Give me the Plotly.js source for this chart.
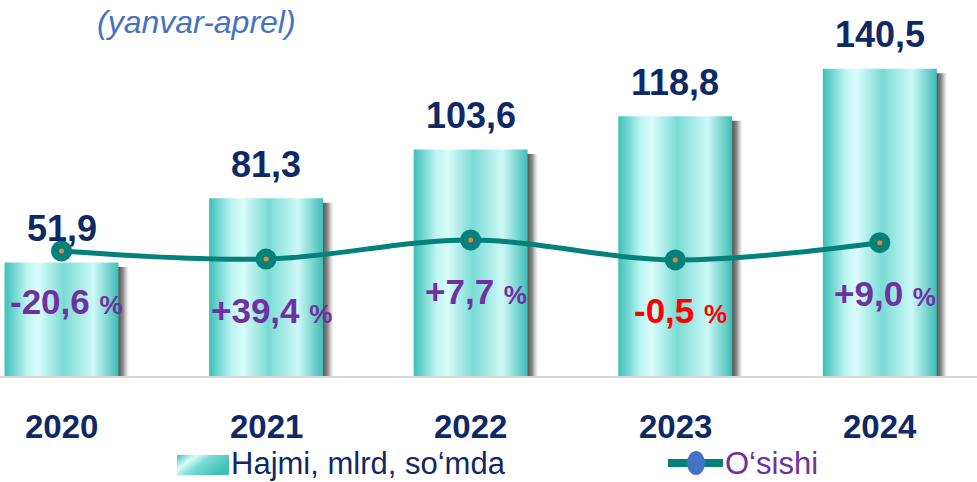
<!DOCTYPE html>
<html>
<head>
<meta charset="utf-8">
<script src="https://cdn.plot.ly/plotly-3.0.1.min.js"></script>
<style>
  html, body { margin: 0; padding: 0; background: #ffffff; }
  #chart { width: 977px; height: 482px; }
</style>
</head>
<body>
<div id="chart"></div>
<script>
// ---- data ----
const years = ['2020', '2021', '2022', '2023', '2024'];
const volume = [51.9, 81.3, 103.6, 118.8, 140.5];       // Hajmi, mlrd, so'mda
const growth = [-20.6, 39.4, 7.7, -0.5, 9.0];          // O'sishi, %
const lineLevel = [57.2, 53.5, 62.2, 53.1, 61.0];      // decorative level of the growth line
const pctColors = ['#7030a0', '#7030a0', '#7030a0', '#ff0000', '#7030a0'];

const seriesNames = ['Hajmi, mlrd, so\u2018mda', 'O\u2018sishi'];
const subtitle = '(yanvar-aprel)';

// ---- styling ----
const W = 977, H = 482, BASE_PX = 376;
const FONT = 'Arial, "Liberation Sans", Helvetica, sans-serif';
const NAVY = '#0f2866';
const TEAL = '#04817b';
const halfW = 0.2785;
const yMax = 172;

const barScale = [[0, '#3cc0b8'], [0.2, '#bff5f3'], [0.3, '#d8fcfb'], [0.52, '#7adbd5'], [0.78, '#cdf8f7'], [1, '#3fbdb6']];
const shadowScale = [[0, 'rgba(60,60,60,0.95)'], [0.5, 'rgba(95,95,95,0.7)'], [1, 'rgba(170,170,170,0)']];

function fmt(v) { return v.toFixed(1).replace('.', ','); }
function fmtPct(v) {
  const s = (v > 0 ? '+' : '') + fmt(v);
  return '<b>' + s + ' <span style="font-size:26px">%</span></b>';
}
const px2x = px => px / W;
const px2y = py => (BASE_PX - py) / BASE_PX;

const traces = [];
volume.forEach((v, i) => {
  // shadow
  traces.push({
    type: 'scatter', mode: 'lines', hoverinfo: 'skip', showlegend: false,
    x: [i + halfW - 0.005, i + halfW - 0.005, i + halfW + 0.052, i + halfW + 0.052, i + halfW - 0.005],
    y: [0, v - 2.0, v - 2.0, 0, 0],
    fill: 'toself', line: { width: 0, color: 'rgba(0,0,0,0)' },
    fillgradient: { type: 'horizontal', colorscale: shadowScale }
  });
  // bar
  traces.push({
    type: 'scatter', mode: 'lines', hoverinfo: 'skip', showlegend: false,
    name: seriesNames[0],
    x: [i - halfW, i - halfW, i + halfW, i + halfW, i - halfW],
    y: [0, v, v, 0, 0],
    fill: 'toself', line: { width: 0, color: 'rgba(0,0,0,0)' },
    fillgradient: { type: 'horizontal', colorscale: barScale }
  });
});

const xIdx = years.map((_, i) => i);
traces.push({
  type: 'scatter', mode: 'lines+markers', name: seriesNames[1], showlegend: false,
  x: xIdx, y: lineLevel, yaxis: 'y2',
  line: { color: TEAL, width: 5, shape: 'spline', smoothing: 1 },
  marker: { color: TEAL, size: 21 }
});
traces.push({
  type: 'scatter', mode: 'markers', showlegend: false, hoverinfo: 'skip',
  x: xIdx, y: lineLevel, yaxis: 'y2',
  marker: { color: '#ee8236', size: 5 }
});

const annotations = [];
volume.forEach((v, i) => {
  annotations.push({
    x: i, y: v, xref: 'x', yref: 'y', yshift: 34, showarrow: false,
    yanchor: 'middle', xanchor: 'center', borderpad: 0,
    text: '<b>' + fmt(v) + '</b>',
    font: { family: FONT, size: 36, color: NAVY }
  });
  annotations.push({
    x: i, y: lineLevel[i], xref: 'x', yref: 'y2', yshift: -51, xshift: 5, showarrow: false,
    yanchor: 'middle', xanchor: 'center', borderpad: 0,
    text: fmtPct(growth[i]),
    font: { family: FONT, size: 35, color: pctColors[i] }
  });
  annotations.push({
    x: i, y: 0, xref: 'x', yref: 'paper', yshift: -50, showarrow: false,
    yanchor: 'middle', xanchor: 'center', borderpad: 0,
    text: '<b>' + years[i] + '</b>',
    font: { family: FONT, size: 33, color: NAVY }
  });
});
annotations.push({
  x: px2x(196), y: px2y(22), xref: 'paper', yref: 'paper', showarrow: false,
  xanchor: 'center', yanchor: 'middle', borderpad: 0,
  text: '<i>' + subtitle + '</i>',
  font: { family: FONT, size: 32, color: '#4472c4' }
});
annotations.push({
  x: px2x(232), y: px2y(463), xref: 'paper', yref: 'paper', showarrow: false,
  xanchor: 'left', yanchor: 'middle', xshift: -2, borderpad: 0,
  text: seriesNames[0],
  font: { family: FONT, size: 31, color: NAVY }
});
annotations.push({
  x: px2x(726), y: px2y(463), xref: 'paper', yref: 'paper', showarrow: false,
  xanchor: 'left', yanchor: 'middle', xshift: -2, borderpad: 0,
  text: seriesNames[1],
  font: { family: FONT, size: 31, color: '#7030a0' }
});

const swatchSvg = '<svg xmlns="http://www.w3.org/2000/svg" width="52" height="20">' +
  '<defs><linearGradient id="g" x1="0" y1="0" x2="1" y2="0.5">' +
  '<stop offset="0" stop-color="#3fc2ba"/><stop offset="0.3" stop-color="#d8fcfb"/>' +
  '<stop offset="0.55" stop-color="#79dbd5"/><stop offset="1" stop-color="#42bfb8"/>' +
  '</linearGradient></defs><rect width="52" height="20" fill="url(#g)"/></svg>';

const layout = {
  width: W, height: H,
  margin: { l: 0, r: 0, t: 0, b: H - BASE_PX, pad: 0 },
  paper_bgcolor: '#ffffff', plot_bgcolor: '#ffffff',
  showlegend: false,
  xaxis: {
    range: [-0.3006, 4.475], showgrid: false, zeroline: false,
    showticklabels: false, ticks: '',
    showline: true, linecolor: '#d6d6d6', linewidth: 2, fixedrange: true
  },
  yaxis: { range: [0, yMax], visible: false, fixedrange: true },
  yaxis2: { range: [0, yMax], visible: false, overlaying: 'y', fixedrange: true },
  annotations: annotations,
  images: [{
    source: 'data:image/svg+xml;charset=utf-8,' + encodeURIComponent(swatchSvg),
    xref: 'paper', yref: 'paper',
    x: px2x(177), y: px2y(455), sizex: 52 / W, sizey: 20 / BASE_PX,
    xanchor: 'left', yanchor: 'top', sizing: 'stretch', layer: 'above'
  }],
  shapes: [
    { type: 'line', xref: 'paper', yref: 'paper', x0: px2x(668), x1: px2x(723), y0: px2y(463), y1: px2y(463),
      line: { color: TEAL, width: 8 } },
    { type: 'circle', xref: 'paper', yref: 'paper', x0: px2x(687), x1: px2x(705), y0: px2y(451), y1: px2y(475),
      fillcolor: '#4472c4', line: { width: 0 } }
  ]
};

Plotly.newPlot('chart', traces, layout, { displayModeBar: false, staticPlot: true });
</script>
</body>
</html>
